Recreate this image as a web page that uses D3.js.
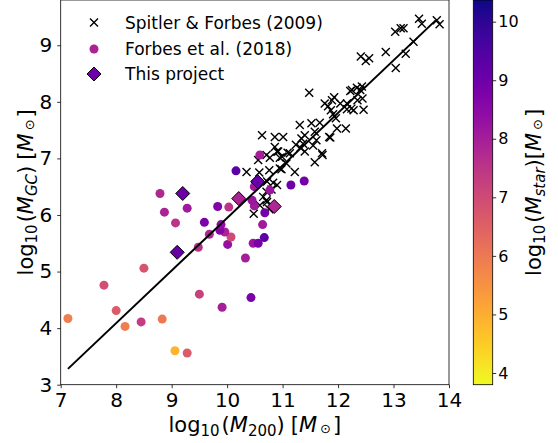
<!DOCTYPE html>
<html>
<head>
<meta charset="utf-8">
<script src="https://cdn.jsdelivr.net/npm/d3@7"></script>
<style>
body { margin: 0; background: #fff; }
text { font-family: "DejaVu Sans", sans-serif; fill: #000; }
</style>
</head>
<body>
<div id="chart"></div>
<script>
const W = 558, H = 443;

// axis ticks
const xTicks = [7, 8, 9, 10, 11, 12, 13, 14];
const yTicks = [3, 4, 5, 6, 7, 8, 9];
const cTicks = [4, 5, 6, 7, 8, 9, 10];

// Spitler & Forbes (2009): [log M200, log MGC]
const spitler = [
  [13.46, 9.47], [13.51, 9.38], [13.78, 9.44], [13.83, 9.37], [13.03, 9.24], [13.13, 9.30],
  [13.18, 9.30], [13.36, 9.06], [12.86, 8.88], [13.22, 8.85], [13.04, 8.60],
  [12.41, 8.80], [12.50, 8.72], [12.56, 8.77], [11.48, 8.16],
  [12.25, 8.21], [12.34, 8.25], [12.40, 8.21], [12.43, 8.27], [12.44, 8.06], [12.46, 7.86],
  [12.35, 8.03], [12.16, 7.87], [12.24, 7.88], [12.22, 8.19],
  [11.98, 7.53], [12.14, 7.53], [11.89, 8.03], [11.93, 8.08], [11.76, 7.97], [11.82, 7.92],
  [11.87, 7.85], [11.96, 7.71], [11.91, 7.78], [12.04, 7.97], [12.16, 7.97], [12.28, 7.85],
  [11.31, 7.59], [11.52, 7.62], [11.67, 7.63], [11.84, 7.38], [11.71, 7.09], [11.58, 6.93],
  [11.40, 7.41], [11.58, 7.47], [11.86, 7.37],
  [11.01, 7.38], [11.24, 7.24], [11.34, 7.35], [11.55, 7.23], [11.61, 7.32], [11.37, 7.26],
  [11.32, 7.19], [11.40, 7.12], [11.72, 7.06],
  [11.22, 6.76], [10.95, 6.82], [11.07, 6.91], [10.99, 7.03], [11.13, 7.09], [11.09, 7.10],
  [10.63, 7.41], [10.86, 7.38], [10.35, 6.76], [10.56, 6.97], [10.71, 7.06], [10.77, 7.01],
  [10.90, 7.12], [10.95, 7.01], [10.86, 7.20], [10.92, 7.12],
  [10.58, 6.75], [10.76, 6.79], [10.98, 6.81], [10.72, 6.59], [10.83, 6.57], [10.90, 6.53],
  [10.71, 6.41], [10.65, 6.32], [10.71, 6.26], [10.59, 6.17], [10.48, 6.02], [10.76, 6.10],
  [10.72, 6.23], [10.80, 6.45]
];

// Forbes et al. (2018): [log M200, log MGC, log Mstar]
const forbes = [
  [7.13, 4.17, 5.9], [7.78, 4.76, 6.9], [8.00, 4.31, 6.6], [8.16, 4.03, 5.9], [8.45, 4.11, 7.3],
  [8.50, 5.06, 6.8], [8.83, 4.16, 6.0], [9.06, 3.60, 4.9], [9.28, 3.56, 6.6], [9.50, 4.60, 7.2],
  [9.91, 4.37, 8.0], [10.43, 4.54, 8.8], [10.33, 5.24, 8.0], [9.48, 5.43, 7.6], [10.01, 5.48, 8.3],
  [10.07, 5.61, 7.0], [9.96, 5.70, 7.9], [9.87, 5.73, 8.6], [9.68, 5.66, 7.8], [10.47, 5.50, 8.2],
  [10.56, 5.50, 8.8], [10.67, 5.60, 9.3], [10.64, 5.83, 8.1], [9.59, 5.87, 8.8], [9.07, 5.86, 7.5],
  [9.89, 5.83, 8.4], [8.79, 6.38, 7.8], [8.87, 6.05, 7.9], [9.28, 6.12, 8.1], [9.83, 6.15, 8.7],
  [10.03, 6.14, 7.5], [10.49, 6.16, 8.1], [10.68, 6.04, 8.9], [10.45, 6.26, 8.2], [10.49, 6.50, 8.1],
  [10.77, 6.44, 8.2], [10.16, 6.78, 9.3], [10.59, 7.06, 8.0], [11.15, 6.53, 9.0], [11.39, 6.60, 8.9]
];

// This project: [log M200, log MGC, log Mstar]
const project = [
  [9.10, 5.34, 9.1], [9.20, 6.38, 9.0], [10.21, 6.29, 7.9], [10.55, 6.59, 9.1], [10.85, 6.15, 7.8]
];

// fit line end points
const fitX = [7.13, 13.76];
const fitY = [3.28, 9.44];

const cDomain = [3.8, 10.37];

const pLeft = 60.7, pRight = 449, pTop = 0, pBottom = 384.7;
const cbLeft = 473.3, cbRight = 492.7;

const x = d3.scaleLinear().domain([7, 14]).range([pLeft, pRight]);
const y = d3.scaleLinear().domain([3, 9.8]).range([pBottom, pTop]);
const cy = d3.scaleLinear().domain(cDomain).range([pBottom, pTop]);
const color = v => d3.interpolatePlasma(1 - (v - cDomain[0]) / (cDomain[1] - cDomain[0]));

const svg = d3.select('#chart').append('svg')
  .attr('width', W).attr('height', H);

// crosses
const cross = 'M-4,-4L4,4M-4,4L4,-4';
svg.append('g').selectAll('path')
  .data(spitler)
  .enter().append('path')
  .attr('d', cross)
  .attr('transform', d => `translate(${x(d[0])},${y(d[1])})`)
  .style('stroke', '#000').style('stroke-width', 1.4).style('fill', 'none');

// circles
svg.append('g').selectAll('circle')
  .data(forbes)
  .enter().append('circle')
  .attr('cx', d => x(d[0])).attr('cy', d => y(d[1]))
  .attr('r', 4.5)
  .style('fill', d => color(d[2]));

// fit line
svg.append('line')
  .attr('x1', x(fitX[0])).attr('y1', y(fitY[0]))
  .attr('x2', x(fitX[1])).attr('y2', y(fitY[1]))
  .style('stroke', '#000').style('stroke-width', 2);

// diamonds
const diamond = 'M0,-7L7,0L0,7L-7,0Z';
svg.append('g').selectAll('path')
  .data(project)
  .enter().append('path')
  .attr('d', diamond)
  .attr('transform', d => `translate(${x(d[0])},${y(d[1])})`)
  .style('fill', d => color(d[2]))
  .style('stroke', '#000').style('stroke-width', 1);

// frame
svg.append('rect')
  .attr('x', pLeft).attr('y', pTop)
  .attr('width', pRight - pLeft).attr('height', pBottom - pTop)
  .style('fill', 'none').style('stroke', '#000').style('stroke-width', 0.8);

const fmt = d3.format('d');

// x axis
const xg = svg.append('g').attr('transform', `translate(0,${pBottom})`)
  .call(d3.axisBottom(x).tickValues(xTicks).tickFormat(fmt).tickSize(3.5).tickPadding(5));
xg.select('.domain').remove();
xg.selectAll('text').style('font-size', '20px').style('font-family', 'DejaVu Sans');
xg.selectAll('line').style('stroke-width', 0.8);

// y axis
const yg = svg.append('g').attr('transform', `translate(${pLeft},0)`)
  .call(d3.axisLeft(y).tickValues(yTicks).tickFormat(fmt).tickSize(3.5).tickPadding(5));
yg.select('.domain').remove();
yg.selectAll('text').style('font-size', '20px').style('font-family', 'DejaVu Sans');
yg.selectAll('line').style('stroke-width', 0.8);

// math-ish label: log10(M_sub) [M_sun]
function massLabel(sel, sub, italicSub) {
  sel.append('tspan').text('log');
  sel.append('tspan').attr('dy', 4).style('font-size', '15px').text('10');
  sel.append('tspan').attr('dy', -4).attr('dx', 2).text('(');
  sel.append('tspan').style('font-style', 'italic').text('M');
  sel.append('tspan').attr('dy', 4).style('font-size', '15px')
    .style('font-style', italicSub ? 'italic' : 'normal').text(sub);
  sel.append('tspan').attr('dy', -4).text(')');
  sel.append('tspan').attr('dx', 6).text('[');
  sel.append('tspan').style('font-style', 'italic').text('M');
  sel.append('tspan').attr('dx', 3).attr('dy', 1).style('font-size', '13px').text('\u2299');
  sel.append('tspan').attr('dx', 2).attr('dy', -1).text(']');
}

// x label
const xl = svg.append('text')
  .attr('x', (pLeft + pRight) / 2).attr('y', 432)
  .attr('text-anchor', 'middle').style('font-size', '21px');
massLabel(xl, '200', false);

// y label
const yl = svg.append('text')
  .attr('transform', `translate(33,${(pTop + pBottom) / 2}) rotate(-90)`)
  .attr('text-anchor', 'middle').style('font-size', '21px');
massLabel(yl, 'GC', true);

// legend
const legend = svg.append('g');
const lx = 94, lRows = [22.5, 49, 74];
legend.append('path').attr('d', cross)
  .attr('transform', `translate(${lx},${lRows[0]})`)
  .style('stroke', '#000').style('stroke-width', 1.4).style('fill', 'none');
legend.append('circle').attr('cx', lx).attr('cy', lRows[1]).attr('r', 4.5)
  .style('fill', color(7.9));
legend.append('path').attr('d', diamond)
  .attr('transform', `translate(${lx},${lRows[2]})`)
  .style('fill', color(9.0)).style('stroke', '#000').style('stroke-width', 1);
const legendLabels = ['Spitler & Forbes (2009)', 'Forbes et al. (2018)', 'This project'];
legend.selectAll('text.lab')
  .data(legendLabels)
  .enter().append('text')
  .attr('class', 'lab')
  .attr('x', 125).attr('y', (d, i) => lRows[i])
  .attr('dy', '0.36em')
  .style('font-size', '17px')
  .text(d => d);

// colorbar
const defs = svg.append('defs');
const grad = defs.append('linearGradient').attr('id', 'cb')
  .attr('x1', 0).attr('y1', 1).attr('x2', 0).attr('y2', 0);
d3.range(0, 1.0001, 0.05).forEach(t => {
  grad.append('stop').attr('offset', t)
    .attr('stop-color', d3.interpolatePlasma(1 - t));
});
svg.append('rect')
  .attr('x', cbLeft).attr('y', pTop)
  .attr('width', cbRight - cbLeft).attr('height', pBottom - pTop)
  .style('fill', 'url(#cb)').style('stroke', '#000').style('stroke-width', 0.8);

const cg = svg.append('g').attr('transform', `translate(${cbRight},0)`)
  .call(d3.axisRight(cy).tickValues(cTicks).tickFormat(fmt).tickSize(3.5).tickPadding(2));
cg.select('.domain').remove();
cg.selectAll('text').style('font-size', '16px').style('font-family', 'DejaVu Sans');
cg.selectAll('line').style('stroke-width', 0.8);

// colorbar label
const cl = svg.append('text')
  .attr('transform', `translate(541,${(pTop + pBottom) / 2}) rotate(-90)`)
  .attr('text-anchor', 'middle').style('font-size', '21px');
cl.append('tspan').text('log');
cl.append('tspan').attr('dy', 4).style('font-size', '15px').text('10');
cl.append('tspan').attr('dy', -4).attr('dx', 2).text('(');
cl.append('tspan').style('font-style', 'italic').text('M');
cl.append('tspan').attr('dy', 4).style('font-size', '15px').style('font-style', 'italic').text('star');
cl.append('tspan').attr('dy', -4).text(')[');
cl.append('tspan').style('font-style', 'italic').text('M');
cl.append('tspan').attr('dx', 3).attr('dy', 1).style('font-size', '13px').text('\u2299');
cl.append('tspan').attr('dx', 2).attr('dy', -1).text(']');
</script>
</body>
</html>
